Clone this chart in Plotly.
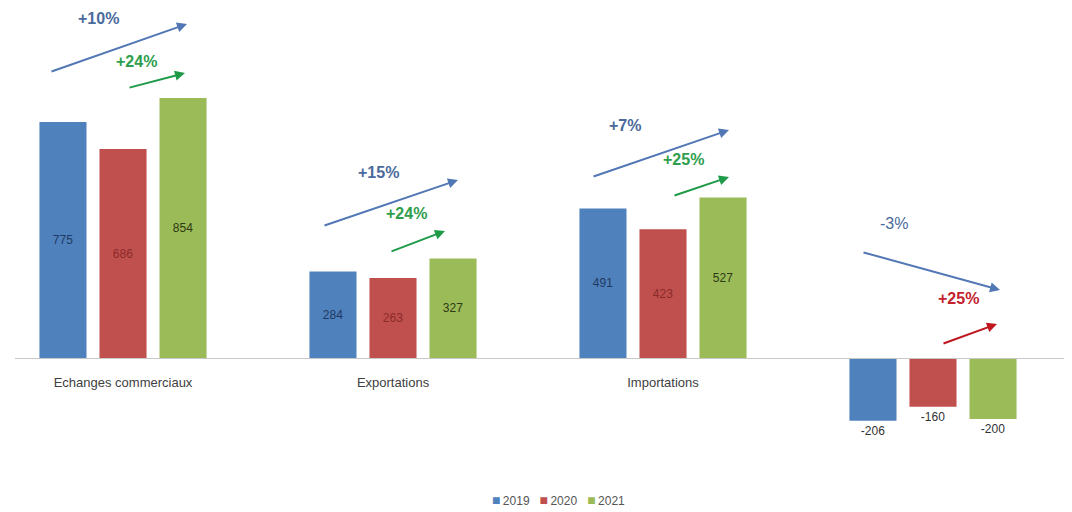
import plotly.graph_objects as go

# ---------------- data ----------------
categories = ["Echanges commerciaux", "Exportations", "Importations", "Solde commercial"]
tick_labels = ["Echanges commerciaux", "Exportations", "Importations", ""]
years = ["2019", "2020", "2021"]
values_2019 = [775, 284, 491, -206]
values_2020 = [686, 263, 423, -160]
values_2021 = [854, 327, 527, -200]
growth_2021_vs_2019 = ["+10%", "+15%", "+7%", "-3%"]
growth_2021_vs_2020 = ["+24%", "+24%", "+25%", "+25%"]

# ---------------- layout constants ----------------
# the page body has an 8px margin, so the figure sits at (8, 8) in the window
OFF = 8
W, H = 1064, 504
ML, MR, MT, MB = 7, 0, 0, 52
PW, PH = W - ML - MR, H - MT - MB
FONT = "Liberation Sans, Arial, sans-serif"

def paper(px, py):
    """window pixel -> paper coordinates"""
    fx, fy = px - OFF, py - OFF
    return (fx - ML) / PW, (MT + PH - fy) / PH

bar_colors = ["#4f81bd", "#c0504d", "#9bbb59"]
inside_text_colors = ["#1f3a63", "#8a2b29", "#2d3a12"]
series = [values_2019, values_2020, values_2021]

fig = go.Figure()
xs = list(range(len(categories)))
for name, vals, col, tcol in zip(years, series, bar_colors, inside_text_colors):
    fig.add_trace(go.Bar(
        x=xs, y=vals, name=name,
        marker=dict(color=col, line=dict(width=0)),
        text=[str(v) for v in vals],
        textposition=["inside" if v >= 0 else "outside" for v in vals],
        insidetextanchor="middle",
        textangle=0,
        textfont=dict(family=FONT, size=12,
                      color=[tcol if v >= 0 else "#333333" for v in vals]),
        cliponaxis=False,
        hovertext=categories,
        showlegend=False,
    ))

# ---------------- growth annotations ----------------
blue_txt = "#4a6a9c"
green_txt = "#2e9e4c"
red_txt = "#c4222c"
blue_arrow = "#5277b5"
green_arrow = "#1e9a48"
red_arrow = "#c0141e"

# label position (px), arrow tail (px), arrow head (px) in window pixels
primary_geo = [
    ((98, 18), (50, 72), (187, 24)),
    ((378, 172), (323, 226), (458, 180)),
    ((625, 126), (592, 177), (729, 130)),
    ((894, 223), (862, 252), (1000, 290)),
]
secondary_geo = [
    ((136, 62), (128, 88), (185, 73)),
    ((406, 213), (390, 252), (445, 231)),
    ((683, 159), (673, 196), (729, 177)),
    ((958, 298), (942, 344), (997, 324)),
]
secondary_txt_cols = [green_txt, green_txt, green_txt, red_txt]
secondary_arrow_cols = [green_arrow, green_arrow, green_arrow, red_arrow]

annotations = []
def add_growth(text, lab, tail, head, tcol, acol, bold=True):
    lx, ly = paper(*lab)
    annotations.append(dict(
        x=lx, y=ly, xref="paper", yref="paper", text=(f"<b>{text}</b>" if bold else text),
        showarrow=False,
        font=dict(family=FONT, size=16, color=tcol),
        xanchor="center", yanchor="middle"))
    hx, hy = paper(*head)
    annotations.append(dict(
        x=hx, y=hy, xref="paper", yref="paper", text="",
        showarrow=True, axref="pixel", ayref="pixel",
        ax=tail[0] - head[0], ay=tail[1] - head[1],
        arrowhead=2, arrowsize=1.0, arrowwidth=2, arrowcolor=acol, standoff=0))

for i in range(len(categories)):
    lab, tail, head = primary_geo[i]
    add_growth(growth_2021_vs_2019[i], lab, tail, head, blue_txt, blue_arrow,
               bold=not growth_2021_vs_2019[i].startswith("-"))
    lab, tail, head = secondary_geo[i]
    add_growth(growth_2021_vs_2020[i], lab, tail, head,
               secondary_txt_cols[i], secondary_arrow_cols[i])

# compact legend (Excel style): small coloured squares followed by the year
legend_parts = [
    f"<span style='color:{c};font-size:14px'>\u25A0</span>\u2009{y}" for y, c in zip(years, bar_colors)
]
lgx, lgy = paper(558, 500)
annotations.append(dict(
    x=lgx, y=lgy, xref="paper", yref="paper", showarrow=False,
    text="\u00a0\u00a0\u00a0".join(legend_parts),
    font=dict(family=FONT, size=12, color="#555555"),
    xanchor="center", yanchor="middle"))

# value axis: 0.3045 px per unit, zero line at window y = 358
PX_PER_UNIT = 0.3045
zero_fig_y = 358 - OFF
y_hi = (zero_fig_y - MT) / PX_PER_UNIT
y_lo = -(MT + PH - zero_fig_y) / PX_PER_UNIT
zero_pos = (0 - y_lo) / (y_hi - y_lo)

# category axis: 270 px per category, first category centred at window x = 123
PX_PER_CAT = 270
x_lo = -((123 - OFF) - ML) / PX_PER_CAT
x_hi = x_lo + PW / PX_PER_CAT

fig.update_layout(
    width=W, height=H,
    margin=dict(l=ML, r=MR, t=MT, b=MB, autoexpand=False),
    paper_bgcolor="white", plot_bgcolor="white",
    barmode="group", bargap=0.333, bargroupgap=0.216,
    showlegend=False,
    xaxis=dict(range=[x_lo, x_hi], tickmode="array", tickvals=xs, ticktext=tick_labels,
               anchor="free", position=zero_pos, showline=True, linecolor="#c8c8c8",
               linewidth=1, showgrid=False, zeroline=False, ticks="outside",
               ticklen=12, tickcolor="rgba(0,0,0,0)",
               tickfont=dict(family=FONT, size=13, color="#404040")),
    yaxis=dict(range=[y_lo, y_hi], visible=False, showgrid=False, zeroline=False),
    annotations=annotations,
    font=dict(family=FONT),
)

fig.write_html("out.html")
